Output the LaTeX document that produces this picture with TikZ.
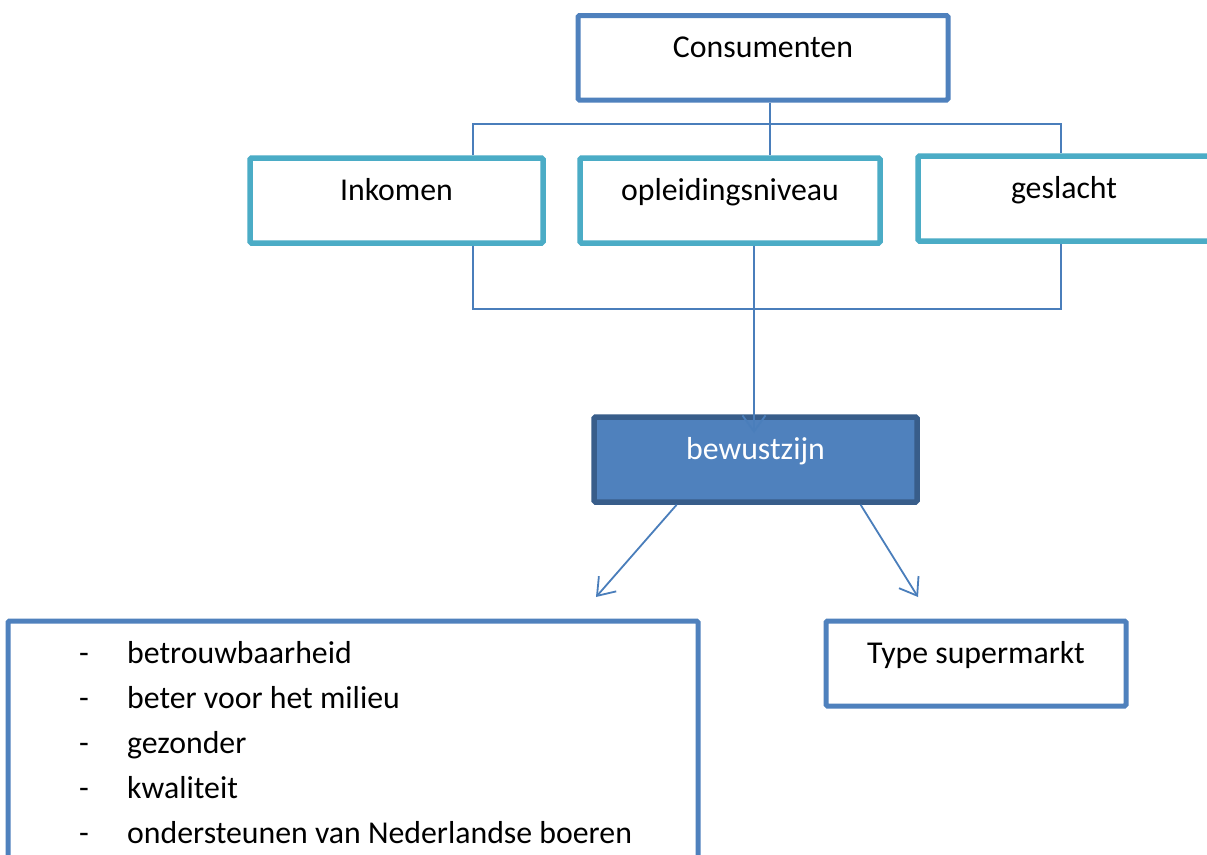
\documentclass[tikz,border=0pt]{standalone}
\usepackage{fontspec}
\setmainfont{Carlito}
\usetikzlibrary{arrows.meta,calc}
\definecolor{oblue}{HTML}{4F81BD}
\definecolor{oaqua}{HTML}{4BACC6}
\definecolor{odark}{HTML}{385D8A}
\definecolor{oconn}{HTML}{4A7EBB}
\tikzset{
  box/.style={draw, rectangle, rounded corners=1.5pt, inner sep=0pt,
    text height=0pt, text depth=0pt, minimum height=85pt,
    font=\fontsize{31.8pt}{45pt}\selectfont},
  bluebox/.style={box, draw=oblue, line width=5pt},
  aquabox/.style={box, draw=oaqua, line width=5.5pt},
  darkbox/.style={box, draw=odark, fill=oblue, line width=5.5pt, text=white},
  conn/.style={draw=oconn, line width=1.8pt},
  arr/.style={conn, -{Straight Barb[length=16pt,width=23pt,line width=1.8pt]}}
}
\begin{document}
\begin{tikzpicture}[x=1pt,y=-1pt]
\useasboundingbox (0,0) rectangle (1207,854);
\fill[white] (0,0) rectangle (1207,854);

\node[bluebox, minimum width=370pt, minimum height=84.5pt] (cons) at (763,57.75) {Consumenten};
\node[aquabox, minimum width=293pt] (ink) at (396.5,200.5) {Inkomen};
\node[aquabox, minimum width=300pt] (opl) at (730,200.5) {opleidingsniveau};
\node[aquabox, minimum width=292pt] (gesl) at (1064,198.5) {geslacht};
\node[darkbox, minimum width=323pt] (bew) at (755.5,459.5) {bewustzijn};
\node[bluebox, minimum width=300pt] (type) at (976,663.5) {Type supermarkt};
\node[bluebox, minimum width=690pt, minimum height=270pt] (lst) at (353,756) {};
\node[anchor=base west, align=left, inner sep=0pt,
      font=\fontsize{31.8pt}{45pt}\selectfont] (items) at (79,843)
  {\makebox[48pt][l]{-}betrouwbaarheid\\
   \makebox[48pt][l]{-}beter voor het milieu\\
   \makebox[48pt][l]{-}gezonder\\
   \makebox[48pt][l]{-}kwaliteit\\
   \makebox[48pt][l]{-}ondersteunen van Nederlandse boeren};

\coordinate (tl) at (473,124);
\coordinate (tm) at (770,124);
\coordinate (tr) at (1061,124);
\coordinate (bl) at (473,309);
\coordinate (br) at (1061,309);
\coordinate (am) at (754,433);
\coordinate (al) at (596,597);
\coordinate (ar) at (918,597);

\draw[conn] (tl |- ink.north) -- (tl) -- (tr) -- (tr |- gesl.north);
\draw[conn] (tm |- cons.south) -- (tm |- opl.north);
\draw[conn] (bl |- ink.south) -- (bl) -- (br) -- (br |- gesl.south);
\draw[arr] (am |- opl.south) -- (am);
\draw[arr] ($(bew.south west)!0.26!(bew.south east)$) -- (al);
\draw[arr] ($(bew.south west)!0.82!(bew.south east)$) -- (ar);
\end{tikzpicture}
\end{document}
